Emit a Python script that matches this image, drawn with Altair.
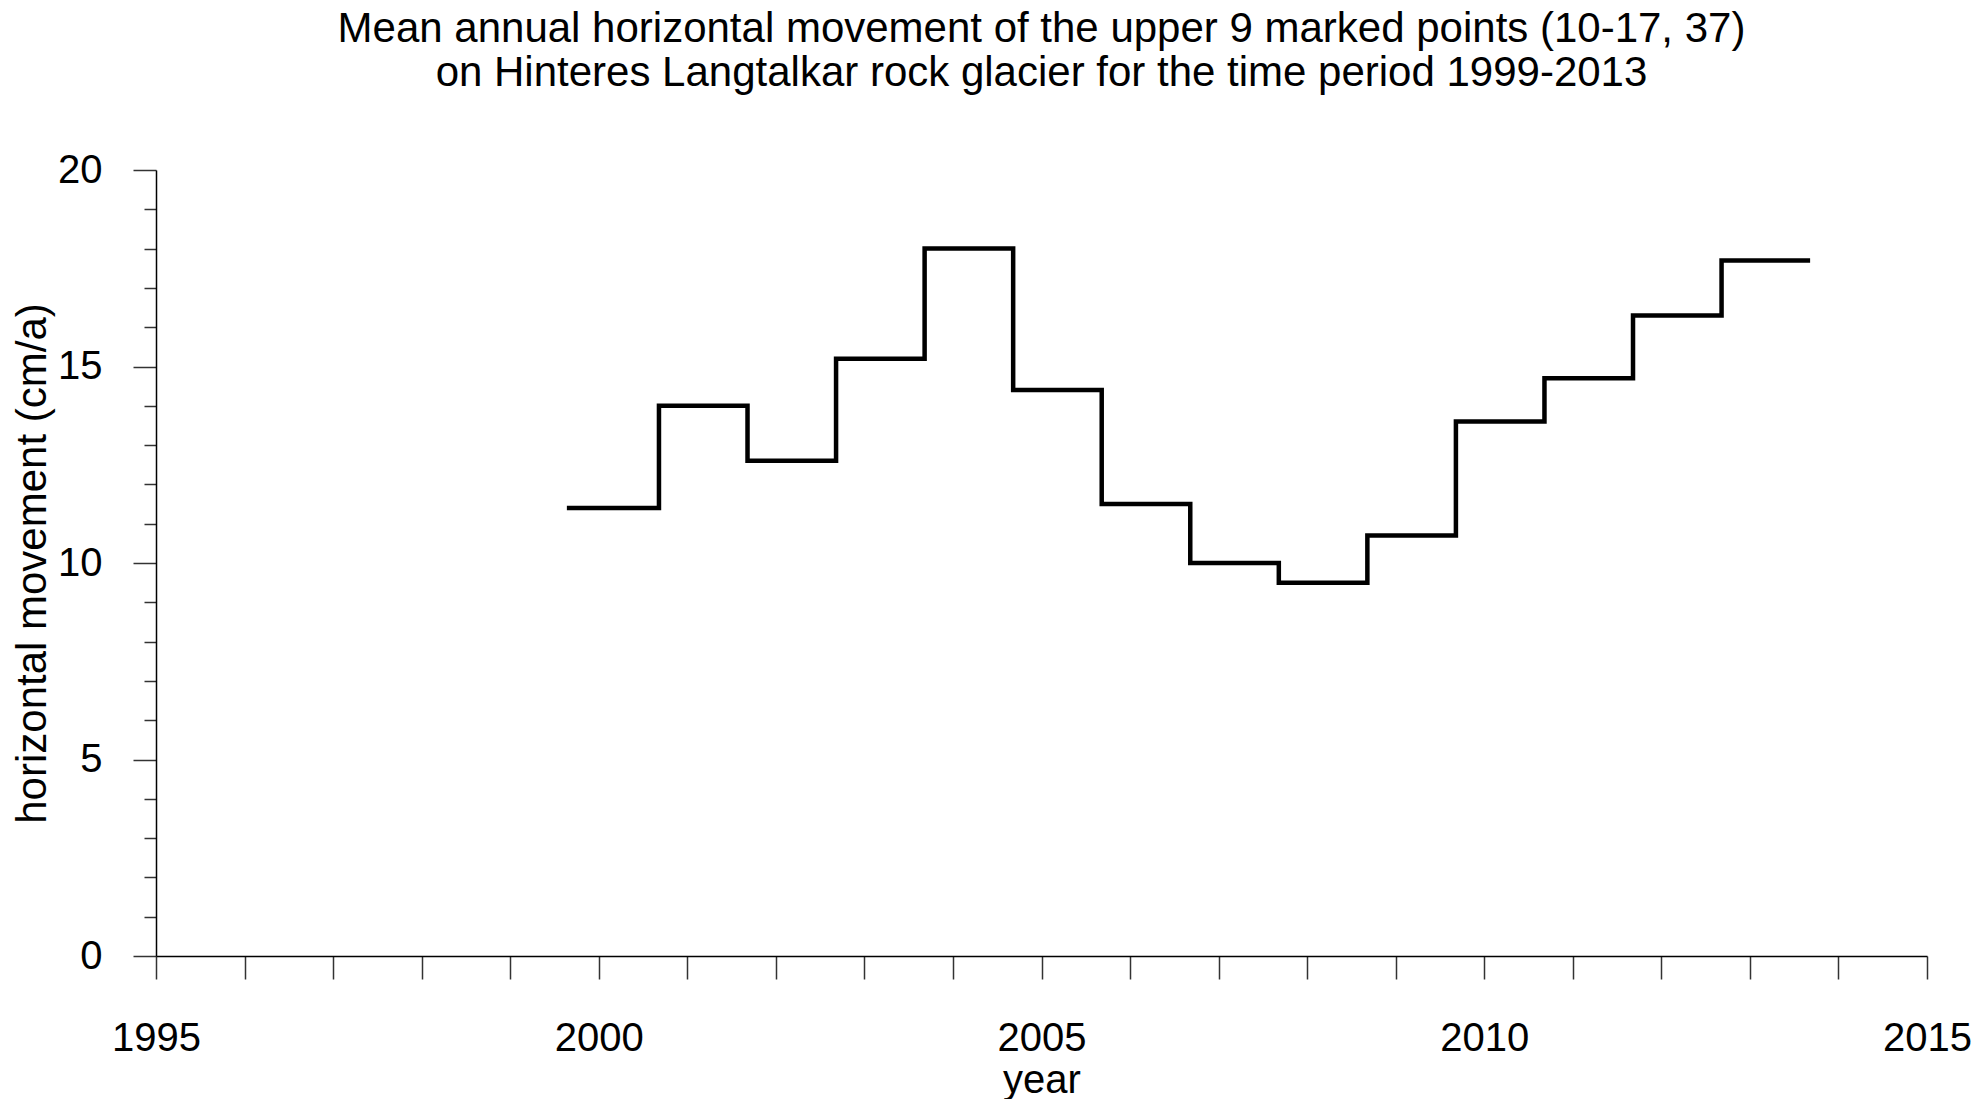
import altair as alt
import pandas as pd

# step start dates (decimal years) and mean annual horizontal movement (cm/a)
step_start = [1999.64, 2000.68, 2001.68, 2002.68, 2003.68, 2004.68, 2005.68,
              2006.68, 2007.68, 2008.68, 2009.68, 2010.68, 2011.68, 2012.68]
step_end_last = 2013.68
movement = [11.4, 14.0, 12.6, 15.2, 18.0, 14.4, 11.5,
            10.0, 9.5, 10.7, 13.6, 14.7, 16.3, 17.7]

x_ticks = list(range(1995, 2016))
y_ticks = list(range(0, 21))

xs = step_start + [step_end_last]
ys = movement + [movement[-1]]
df = pd.DataFrame({"year": xs, "v": ys})

FONT = "Liberation Sans"

chart = alt.Chart(df).mark_line(
    interpolate="step-after", color="black", strokeWidth=4.5
).encode(
    x=alt.X("year:Q",
            scale=alt.Scale(domain=[1995, 2015], nice=False, zero=False),
            axis=alt.Axis(values=x_ticks, format="d", title="year",
                          labelExpr="datum.value % 5 === 0 ? datum.label : ''",
                          tickSize=23, labelPadding=39, grid=False,
                          labelFontSize=40, titleFontSize=40, titlePadding=2,
                          labelFlush=False)),
    y=alt.Y("v:Q",
            scale=alt.Scale(domain=[0, 20], nice=False),
            axis=alt.Axis(values=y_ticks, title="horizontal movement (cm/a)",
                          labelExpr="datum.value % 5 === 0 ? datum.label : ''",
                          tickSize={"condition": {"test": "datum.value % 5 === 0", "value": 23}, "value": 12},
                          labelPadding=31, grid=False,
                          labelFontSize=40, titleFontSize=42, titlePadding=3,
                          labelFlush=False)),
).properties(
    width=1771,
    height=786,
    autosize=alt.AutoSizeParams(type="none"),
    padding={"left": 148, "top": 162, "right": 44, "bottom": 143},
    title=alt.TitleParams(
        text=["Mean annual horizontal movement of the upper 9 marked points (10-17, 37)",
              "on Hinteres Langtalkar rock glacier for the time period 1999-2013"],
        fontSize=42, font=FONT, fontWeight="normal", color="black",
        anchor="middle", offset=55, lineHeight=44),
).configure_view(stroke=None).configure_axis(
    domainColor="black", domainWidth=1.5, tickColor="#333", tickWidth=1.5,
    labelColor="black", titleColor="black", labelFont=FONT, titleFont=FONT,
    titleFontWeight="normal"
)

chart.save("out.html", embed_options={"renderer": "svg", "actions": False})
